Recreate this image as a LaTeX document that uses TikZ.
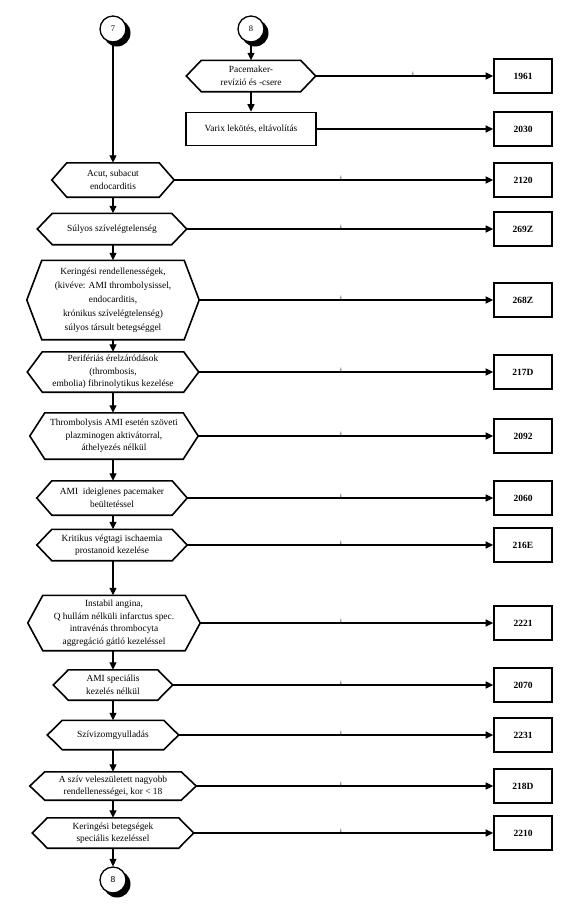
\documentclass[tikz,border=0pt]{standalone}
\usepackage{fontspec}
\setmainfont{Liberation Serif}
\setsansfont{Liberation Sans}
\usetikzlibrary{arrows.meta,calc}
\begin{document}
\begin{tikzpicture}[x=1pt,y=-1pt,
  hexbox/.style={inner sep=0pt, align=center, font=\fontsize{9.4}{12.5}\selectfont},
  hexline/.style={line width=1.6pt, line join=miter},
  rectbox/.style={draw, line width=1.6pt, inner sep=0pt, align=center, font=\fontsize{9.4}{12.5}\selectfont},
  codebox/.style={draw, line width=1.6pt, inner sep=0pt, minimum width=58pt, minimum height=34pt, font=\fontsize{9.5}{11}\selectfont\bfseries},
  conn/.style={circle, draw, line width=1.3pt, fill=white, minimum size=26pt, inner sep=0pt, font=\fontsize{8.5}{10}\selectfont},
  shad/.style={fill=black},
  arr/.style={line width=1.2pt, -{Triangle[length=7.5pt,width=7pt]}},
  ilab/.style={inner sep=0pt, font=\fontsize{8}{8}\selectfont, text=black, yshift=1pt}
]
\useasboundingbox (0,0) rectangle (577,906);
\fill[white] (0,0) rectangle (577,906);

% connectors (circles) with crescent shadows
\fill[shad] (117,33) circle (13.5pt);
\node[conn] (c7) at (113,29) {7};
\fill[shad] (255,33) circle (13.5pt);
\node[conn] (c8) at (251,29) {8};
\fill[shad] (117,884) circle (13.5pt);
\node[conn, font=\fontsize{8.5}{10}\selectfont\sffamily] (c8b) at (113,880) {8};

% top right branch
\node[hexbox, minimum width=129pt, minimum height=31pt] (pace) at (251,76) {Pacemaker-\\revízió és -csere};
\node[rectbox, minimum width=130pt, minimum height=33pt] (varix) at (251,129) {Varix lekötés, eltávolítás};

% main column
\node[hexbox, minimum width=122pt, minimum height=34pt] (acut) at (113,180) {Acut, subacut\\endocarditis};
\node[hexbox, minimum width=149pt, minimum height=31pt] (sulyos) at (112,229) {Súlyos szívelégtelenség};
\node[hexbox, minimum width=172pt, minimum height=79pt, font=\fontsize{9.4}{14}\selectfont] (kering) at (113,300) {Keringési rendellenességek,\\(kivéve: AMI thrombolysissel,\\endocarditis,\\krónikus szívelégtelenség)\\súlyos társult betegséggel};
\node[hexbox, minimum width=171pt, minimum height=40pt] (perif) at (113,372) {Perifériás érelzáródások\\(thrombosis,\\embolia) fibrinolytikus kezelése};
\node[hexbox, minimum width=168pt, minimum height=46pt] (thromb) at (114,436) {Thrombolysis AMI esetén szöveti\\plazminogen aktivátorral,\\áthelyezés nélkül};
\node[hexbox, minimum width=150pt, minimum height=34pt] (amiide) at (112,498) {AMI\ \ ideiglenes pacemaker\\beültetéssel};
\node[hexbox, minimum width=150pt, minimum height=31pt] (krit) at (112,545) {Kritikus végtagi ischaemia\\prostanoid kezelése};
\node[hexbox, minimum width=172pt, minimum height=55pt] (instab) at (114,623) {Instabil angina,\\Q hullám nélküli infarctus spec.\\intravénás thrombocyta\\aggregáció gátló kezeléssel};
\node[hexbox, minimum width=119pt, minimum height=30pt] (amispec) at (113,685) {AMI speciális\\kezelés nélkül};
\node[hexbox, minimum width=131pt, minimum height=29pt] (sziv) at (113,735) {Szívizomgyulladás};
\node[hexbox, minimum width=166pt, minimum height=28pt] (asziv) at (113,786) {A szív veleszületett nagyobb\\rendellenességei, kor < 18};
\node[hexbox, minimum width=161pt, minimum height=30pt] (kerbet) at (113,833) {Keringési betegségek\\speciális kezeléssel};

% hexagon outlines
\foreach \n in {pace,acut,sulyos,kering,perif,thromb,amiide,krit,instab,amispec,sziv,asziv,kerbet}
  \draw[hexline] ([xshift=15pt]\n.north west) -- ([xshift=-15pt]\n.north east) -- (\n.east)
    -- ([xshift=-15pt]\n.south east) -- ([xshift=15pt]\n.south west) -- (\n.west) -- cycle;

% code boxes
\node[codebox] (b1961) at (523,76) {1961};
\node[codebox] (b2030) at (523,129) {2030};
\node[codebox] (b2120) at (523,180) {2120};
\node[codebox] (b269Z) at (523,229) {269Z};
\node[codebox] (b268Z) at (523,300) {268Z};
\node[codebox] (b217D) at (523,372) {217D};
\node[codebox] (b2092) at (523,436) {2092};
\node[codebox] (b2060) at (523,498) {2060};
\node[codebox] (b216E) at (523,545) {216E};
\node[codebox] (b2221) at (523,623) {2221};
\node[codebox] (b2070) at (523,685) {2070};
\node[codebox] (b2231) at (523,735) {2231};
\node[codebox] (b218D) at (523,786) {218D};
\node[codebox] (b2210) at (523,833) {2210};

% vertical flow
\draw[arr] (c7.south) -- (acut.north);
\draw[arr] (c8.south) -- (pace.north);
\draw[arr] (pace.south) -- (varix.north);
\draw[arr] (acut.south) -- (sulyos.north -| acut.south);
\draw[arr] (sulyos.south -| acut.south) -- (kering.north -| acut.south);
\draw[arr] (kering.south -| acut.south) -- (perif.north -| acut.south);
\draw[arr] (perif.south -| acut.south) -- (thromb.north -| acut.south);
\draw[arr] (thromb.south -| acut.south) -- (amiide.north -| acut.south);
\draw[arr] (amiide.south -| acut.south) -- (krit.north -| acut.south);
\draw[arr] (krit.south -| acut.south) -- (instab.north -| acut.south);
\draw[arr] (instab.south -| acut.south) -- (amispec.north -| acut.south);
\draw[arr] (amispec.south) -- (sziv.north);
\draw[arr] (sziv.south) -- (asziv.north);
\draw[arr] (asziv.south) -- (kerbet.north);
\draw[arr] (kerbet.south) -- (c8b.north);

% horizontal connectors
\coordinate (ix) at (341,0);
\coordinate (ixt) at (413,0);
\draw[arr] (pace.east) -- (b1961.west);
\node[ilab] at (b1961.west -| ixt) {i};
\draw[arr] (varix.east) -- (b2030.west);
\foreach \s/\t in {acut/b2120,sulyos/b269Z,kering/b268Z,perif/b217D,thromb/b2092,amiide/b2060,krit/b216E,instab/b2221,amispec/b2070,sziv/b2231,asziv/b218D,kerbet/b2210}{
  \draw[arr] (\s.east) -- (\t.west);
  \node[ilab] at (\t.west -| ix) {i};
}
\end{tikzpicture}
\end{document}
